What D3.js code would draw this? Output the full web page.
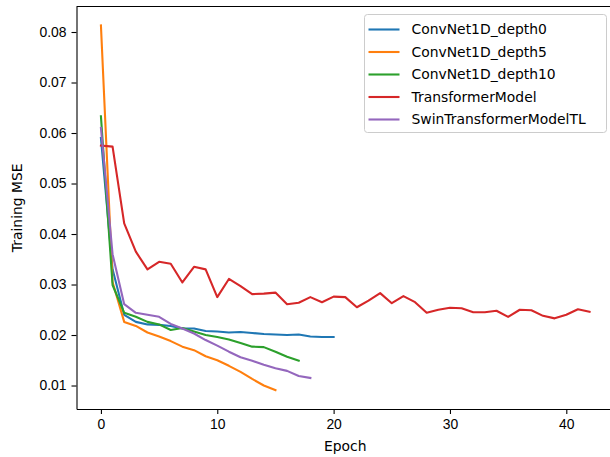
<!DOCTYPE html>
<meta charset="utf-8">
<style>
    body {
        margin: 0;
        background: #fff;
    }

    svg {
        font-family: "DejaVu Sans", sans-serif;
    }

    .axis text {
        font-size: 13.9px;
        fill: #000;
    }

    .axis line,
    .axis path {
        stroke: #000;
        stroke-width: 1.1;
    }

    .series {
        fill: none;
        stroke-width: 2.1;
        stroke-linejoin: round;
        stroke-linecap: square;
    }
</style>

<body>
    <script src="https://d3js.org/d3.v7.min.js"></script>
    <script>

        // values, one per epoch starting at 0
        var seriesNames = ["ConvNet1D_depth0", "ConvNet1D_depth5", "ConvNet1D_depth10",
            "TransformerModel", "SwinTransformerModelTL"];

        var depth0 = [0.0590, 0.0330, 0.0240, 0.0226, 0.0221, 0.0220, 0.0218, 0.0213, 0.0213, 0.0208,
            0.0207, 0.0205, 0.0206, 0.0204, 0.0202, 0.0201, 0.0200, 0.0201, 0.0197, 0.0196, 0.0196];

        var depth5 = [0.0813, 0.0305, 0.0226, 0.0218, 0.0205, 0.0197, 0.0188, 0.0177, 0.0170, 0.0158,
            0.0150, 0.0139, 0.0127, 0.0113, 0.0100, 0.0091];

        var depth10 = [0.0633, 0.0299, 0.0244, 0.0236, 0.0226, 0.0221, 0.0210, 0.0214, 0.0207, 0.0200,
            0.0196, 0.0191, 0.0184, 0.0177, 0.0176, 0.0167, 0.0157, 0.0149];

        var transformer = [0.0575, 0.0573, 0.0421, 0.0365, 0.0330, 0.0345, 0.0341, 0.0304, 0.0335, 0.0330,
            0.0275, 0.0311, 0.0297, 0.0281, 0.0282, 0.0284, 0.0261, 0.0264, 0.0275, 0.0265,
            0.0276, 0.0275, 0.0255, 0.0268, 0.0283, 0.0263, 0.0277, 0.0265, 0.0244, 0.0250,
            0.0254, 0.0253, 0.0245, 0.0245, 0.0248, 0.0236, 0.0250, 0.0249, 0.0238, 0.0233,
            0.0240, 0.0251, 0.0246];

        var swin = [0.0610, 0.0360, 0.0261, 0.0244, 0.0240, 0.0236, 0.0222, 0.0213, 0.0203, 0.0190,
            0.0179, 0.0167, 0.0156, 0.0149, 0.0141, 0.0134, 0.0129, 0.0119, 0.0115];

        var xTicks = [0, 10, 20, 30, 40];
        var yTicks = [0.01, 0.02, 0.03, 0.04, 0.05, 0.06, 0.07, 0.08];

        var colors = ["#1f77b4", "#ff7f0e", "#2ca02c", "#d62728", "#9467bd"];
        var allSeries = [depth0, depth5, depth10, transformer, swin];

        var width = 610, height = 457;
        var plot = { left: 76.5, right: 614, top: 6.5, bottom: 409 };

        var svg = d3.select("body").append("svg")
            .attr("width", width)
            .attr("height", height);

        var x = d3.scaleLinear().domain([-2.1, 44.1]).range([plot.left, plot.right]);
        var y = d3.scaleLinear().domain([0.00535, 0.08505]).range([plot.bottom, plot.top]);

        var line = d3.line()
            .x(function (d, i) { return x(i); })
            .y(function (d) { return y(d); });

        svg.append("defs").append("clipPath").attr("id", "clip")
            .append("rect")
            .attr("x", plot.left).attr("y", plot.top)
            .attr("width", plot.right - plot.left).attr("height", plot.bottom - plot.top);

        svg.append("g")
            .attr("clip-path", "url(#clip)")
            .selectAll("path")
            .data(allSeries)
            .enter()
            .append("path")
            .attr("class", "series")
            .attr("stroke", function (d, i) { return colors[i]; })
            .attr("d", line);

        // axes
        svg.append("g")
            .attr("class", "axis")
            .attr("transform", "translate(" + plot.left + ",0)")
            .call(d3.axisLeft(y).tickValues(yTicks).tickFormat(d3.format(".2f"))
                .tickSize(5).tickSizeOuter(0).tickPadding(5));

        svg.append("g")
            .attr("class", "axis")
            .attr("transform", "translate(0," + plot.bottom + ")")
            .call(d3.axisBottom(x).tickValues(xTicks).tickFormat(d3.format("d"))
                .tickSize(5).tickSizeOuter(0).tickPadding(5));

        svg.append("line")
            .attr("x1", plot.left).attr("x2", plot.right)
            .attr("y1", plot.top).attr("y2", plot.top)
            .attr("stroke", "#000").attr("stroke-width", 1.1);

        svg.append("text")
            .attr("x", (plot.left + plot.right) / 2)
            .attr("y", 451)
            .attr("text-anchor", "middle")
            .attr("font-size", "13.9px")
            .text("Epoch");

        svg.append("text")
            .attr("transform", "translate(22," + (plot.top + plot.bottom) / 2 + ") rotate(-90)")
            .attr("text-anchor", "middle")
            .attr("font-size", "13.9px")
            .text("Training MSE");

        // legend
        var legend = svg.append("g").attr("transform", "translate(364.5,14.5)");

        legend.append("rect")
            .attr("width", 242)
            .attr("height", 118)
            .attr("rx", 3)
            .attr("fill", "#fff")
            .attr("fill-opacity", 0.8)
            .attr("stroke", "#ccc")
            .attr("stroke-width", 1);

        var rows = legend.selectAll("g.row")
            .data(seriesNames)
            .enter()
            .append("g")
            .attr("class", "row")
            .attr("transform", function (d, i) { return "translate(0," + (15 + i * 22.5) + ")"; });

        rows.append("line")
            .attr("x1", 4).attr("x2", 35)
            .attr("stroke-width", 2.1)
            .attr("stroke", function (d, i) { return colors[i]; });

        rows.append("text")
            .attr("x", 47)
            .attr("dy", "0.35em")
            .attr("font-size", "13.9px")
            .text(function (d) { return d; });

    </script>
</body>
